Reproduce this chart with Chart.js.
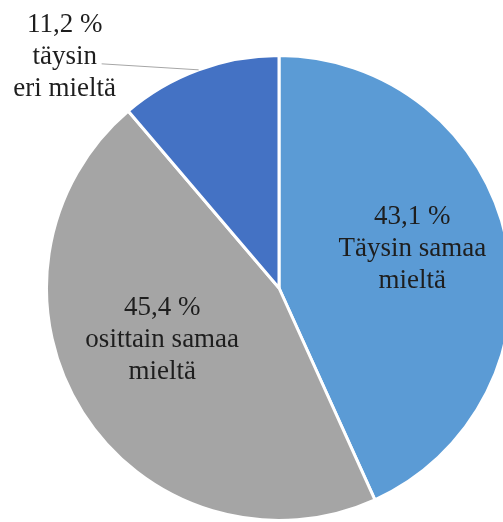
<!DOCTYPE html>
<html>
<head>
<meta charset="utf-8">
<script src="https://cdn.jsdelivr.net/npm/chart.js@4"></script>
<style>
  html, body { margin: 0; padding: 0; background: #fff; overflow: hidden; }
  #wrap { position: relative; width: 558px; height: 522px; }
</style>
</head>
<body>
<div id="wrap"><canvas id="pieChart"></canvas></div>
<script>
// vastausten jakauma
var answers = ["Täysin samaa mieltä", "osittain samaa mieltä", "täysin eri mieltä"];
var shares = [43.1, 45.4, 11.2];
var sliceColors = ["#5b9bd5", "#a5a5a5", "#4472c4"];

// label text rows for each slice
var labelRows = [
    ["43,1 %", "Täysin samaa", "mieltä"],
    ["45,4 %", "osittain samaa", "mieltä"],
    ["11,2 %", "täysin", "eri mieltä"]
];

var FONT = '27px "Liberation Serif"';
var LINE_H = 32;

function drawRows(ctx, rows, cx, cy) {
    // cy is the middle of the centre row
    rows.forEach(function (row, i) {
        ctx.fillText(row, cx, cy + (i - 1) * LINE_H);
    });
}

var sliceLabels = {
    id: "sliceLabels",
    afterDatasetsDraw: function (chart) {
        var ctx = chart.ctx;
        var arcs = chart.getDatasetMeta(0).data;
        ctx.save();
        ctx.font = FONT;
        ctx.fillStyle = "#1e1e1e";
        ctx.textAlign = "center";
        ctx.textBaseline = "middle";

        arcs.forEach(function (arc, i) {
            var p = arc.getProps(["x", "y", "startAngle", "endAngle", "outerRadius"], true);
            var mid = (p.startAngle + p.endAngle) / 2;
            if (i < 2) {
                // inside labels
                var nudge = i === 0 ? [-3, -10] : [1, -23];
                var r = p.outerRadius * 0.6;
                drawRows(ctx, labelRows[i], p.x + Math.cos(mid) * r + nudge[0], p.y + Math.sin(mid) * r + nudge[1]);
            } else {
                // small slice: label outside with a leader line
                var ex = p.x + Math.cos(mid) * p.outerRadius;
                var ey = p.y + Math.sin(mid) * p.outerRadius;
                var lx = ex - 97, ly = ey - 6;
                ctx.strokeStyle = "#a6a6a6";
                ctx.lineWidth = 1;
                ctx.beginPath();
                ctx.moveTo(ex, ey);
                ctx.lineTo(lx, ly);
                ctx.stroke();
                drawRows(ctx, labelRows[i], lx - 37, ly - 7);
            }
        });
        ctx.restore();
    }
};

var chart = new Chart(document.getElementById("pieChart"), {
    type: "pie",
    data: {
        labels: answers,
        datasets: [{
            data: shares,
            backgroundColor: sliceColors,
            borderColor: "#ffffff",
            borderWidth: 3
        }]
    },
    options: {
        responsive: true,
        maintainAspectRatio: false,
        animation: false,
        layout: { padding: { top: 54, bottom: 0, left: 45, right: 45 } },
        plugins: {
            legend: { display: false },
            tooltip: { enabled: false }
        }
    },
    plugins: [sliceLabels]
});
</script>
</body>
</html>
